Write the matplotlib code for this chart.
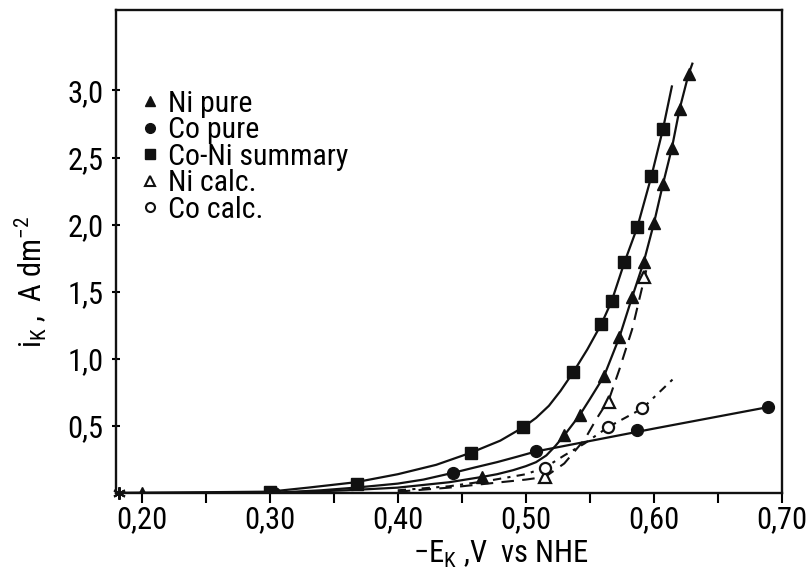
import matplotlib
matplotlib.use("Agg")
import matplotlib.pyplot as plt
from matplotlib.lines import Line2D
from matplotlib import font_manager

# ---------------- data ----------------
# measured points
ni_pure_x = [0.200, 0.466, 0.530, 0.542, 0.561, 0.573, 0.583, 0.592, 0.600, 0.607, 0.614, 0.620, 0.627]
ni_pure_y = [0.00, 0.12, 0.43, 0.58, 0.87, 1.16, 1.46, 1.72, 2.01, 2.30, 2.57, 2.86, 3.12]

co_pure_x = [0.303, 0.443, 0.508, 0.587, 0.689]
co_pure_y = [0.00, 0.15, 0.31, 0.47, 0.64]

coni_x = [0.300, 0.368, 0.457, 0.498, 0.537, 0.559, 0.567, 0.577, 0.587, 0.598, 0.607]
coni_y = [0.01, 0.07, 0.30, 0.49, 0.90, 1.26, 1.43, 1.72, 1.98, 2.36, 2.71]

ni_calc_x = [0.515, 0.565, 0.592]
ni_calc_y = [0.12, 0.68, 1.61]

co_calc_x = [0.515, 0.564, 0.591]
co_calc_y = [0.19, 0.49, 0.63]

origin_x = [0.182]
origin_y = [0.0]

# fitted curves as drawn in the figure
ni_curve_x = [0.18, 0.30, 0.36, 0.40, 0.44, 0.466, 0.4775, 0.49, 0.50, 0.508, 0.516, 0.523, 0.530,
              0.542, 0.550, 0.561, 0.573, 0.583, 0.592, 0.600, 0.607, 0.614, 0.620, 0.627, 0.630]
ni_curve_y = [0.00, 0.00, 0.02, 0.04, 0.08, 0.12, 0.14, 0.17, 0.20, 0.23, 0.28, 0.35, 0.43,
              0.58, 0.70, 0.87, 1.16, 1.46, 1.72, 2.01, 2.30, 2.57, 2.86, 3.12, 3.20]

co_curve_x = [0.18, 0.30, 0.34, 0.367, 0.40, 0.42, 0.443, 0.46, 0.4775, 0.493, 0.508, 0.60, 0.689]
co_curve_y = [0.00, 0.00, 0.02, 0.04, 0.07, 0.10, 0.15, 0.19, 0.23, 0.27, 0.31, 0.48, 0.64]

coni_curve_x = [0.18, 0.30, 0.33, 0.367, 0.40, 0.43, 0.457, 0.48, 0.498, 0.508, 0.518, 0.527,
                0.537, 0.548, 0.559, 0.567, 0.577, 0.587, 0.598, 0.607, 0.614]
coni_curve_y = [0.00, 0.01, 0.04, 0.08, 0.14, 0.21, 0.30, 0.39, 0.49, 0.56, 0.65, 0.76,
                0.90, 1.07, 1.26, 1.43, 1.72, 1.98, 2.36, 2.71, 3.03]

ni_calc_curve_x = [0.40, 0.44, 0.47, 0.50, 0.515, 0.530, 0.546, 0.555, 0.565, 0.573, 0.583, 0.594]
ni_calc_curve_y = [0.01, 0.04, 0.07, 0.10, 0.12, 0.22, 0.40, 0.55, 0.70, 0.92, 1.22, 1.66]

co_calc_curve_x = [0.40, 0.44, 0.47, 0.50, 0.515, 0.530, 0.546, 0.564, 0.591, 0.615]
co_calc_curve_y = [0.02, 0.05, 0.09, 0.14, 0.19, 0.28, 0.37, 0.49, 0.63, 0.85]

x_ticks = [0.20, 0.30, 0.40, 0.50, 0.60, 0.70]
x_ticklabels = ["0,20", "0,30", "0,40", "0,50", "0,60", "0,70"]
x_minor = [0.25, 0.35, 0.45, 0.55, 0.65]
y_ticks = [0.5, 1.0, 1.5, 2.0, 2.5, 3.0]
y_ticklabels = ["0,5", "1,0", "1,5", "2,0", "2,5", "3,0"]

legend_labels = ["Ni pure", "Co pure", "Co-Ni summary", "Ni calc.", "Co calc."]

# ---------------- style ----------------
names = {f.name for f in font_manager.fontManager.ttflist}
main_font = "Roboto Condensed" if "Roboto Condensed" in names else "DejaVu Sans"
plt.rcParams["font.family"] = [main_font, "DejaVu Sans"]
plt.rcParams["mathtext.fontset"] = "custom"
plt.rcParams["mathtext.rm"] = main_font
plt.rcParams["mathtext.it"] = main_font
plt.rcParams["mathtext.bf"] = main_font
plt.rcParams["mathtext.sf"] = main_font

fig = plt.figure(figsize=(8.09, 5.77), dpi=100)
ax = fig.add_axes([116 / 809, 84 / 577, 666 / 809, 483 / 577])

lc = "#111111"
# curves
ax.plot(ni_curve_x, ni_curve_y, color=lc, lw=1.6)
ax.plot(co_curve_x, co_curve_y, color=lc, lw=1.6)
ax.plot(coni_curve_x, coni_curve_y, color=lc, lw=1.6)
ax.plot(ni_calc_curve_x, ni_calc_curve_y, color=lc, lw=1.5, ls=(0, (6, 4)))
ax.plot(co_calc_curve_x, co_calc_curve_y, color=lc, lw=1.5, ls=(0, (4, 3, 1.5, 3)))

# markers
ax.plot(ni_pure_x, ni_pure_y, ls="none", marker="^", ms=8.5, color=lc)
ax.plot(co_pure_x, co_pure_y, ls="none", marker="o", ms=8.5, color=lc)
ax.plot(coni_x, coni_y, ls="none", marker="s", ms=8, color=lc)
ax.plot(ni_calc_x, ni_calc_y, ls="none", marker="^", ms=8.5, mfc="white", mec=lc, mew=1.6)
ax.plot(co_calc_x, co_calc_y, ls="none", marker="o", ms=8, mfc="white", mec=lc, mew=1.6)
ax.plot(origin_x, origin_y, ls="none", marker=(6, 2, 0), ms=9, color=lc, mew=1.5, clip_on=False)

ax.set_xlim(0.18, 0.695)
ax.set_ylim(0, 3.6)

ax.set_xticks(x_ticks)
ax.set_xticklabels(x_ticklabels)
ax.set_xticks(x_minor, minor=True)
ax.set_yticks(y_ticks)
ax.set_yticklabels(y_ticklabels)
ax.tick_params(axis="x", which="both", direction="out", length=7, width=1.5, labelsize=22, pad=2)
ax.tick_params(axis="y", which="both", direction="inout", length=6, width=1.5, labelsize=22, pad=6)
for s in ax.spines.values():
    s.set_linewidth(1.7)
    s.set_color(lc)

fig.text(501 / 809, 1 - 554 / 577, r"$-$E$_{\mathrm{K}}$ ,V  vs NHE", ha="center", va="center", fontsize=22)
fig.text(31 / 809, 1 - 282 / 577, r"i$_{\mathrm{K}}$ ,  A dm$^{-2}$", ha="center", va="center",
         rotation=90, fontsize=22)

handles = [
    Line2D([], [], ls="none", marker="^", ms=7, color=lc),
    Line2D([], [], ls="none", marker="o", ms=7, color=lc),
    Line2D([], [], ls="none", marker="s", ms=6.5, color=lc),
    Line2D([], [], ls="none", marker="^", ms=7, mfc="white", mec=lc, mew=1.5),
    Line2D([], [], ls="none", marker="o", ms=6.5, mfc="white", mec=lc, mew=1.5),
]
ax.legend(handles, legend_labels, loc="upper left", bbox_to_anchor=(0.02, 0.86), frameon=False,
          fontsize=21.5, handlelength=0.6, handletextpad=0.3, labelspacing=-0.05, borderaxespad=0)

fig.savefig("out.png", dpi=100)
